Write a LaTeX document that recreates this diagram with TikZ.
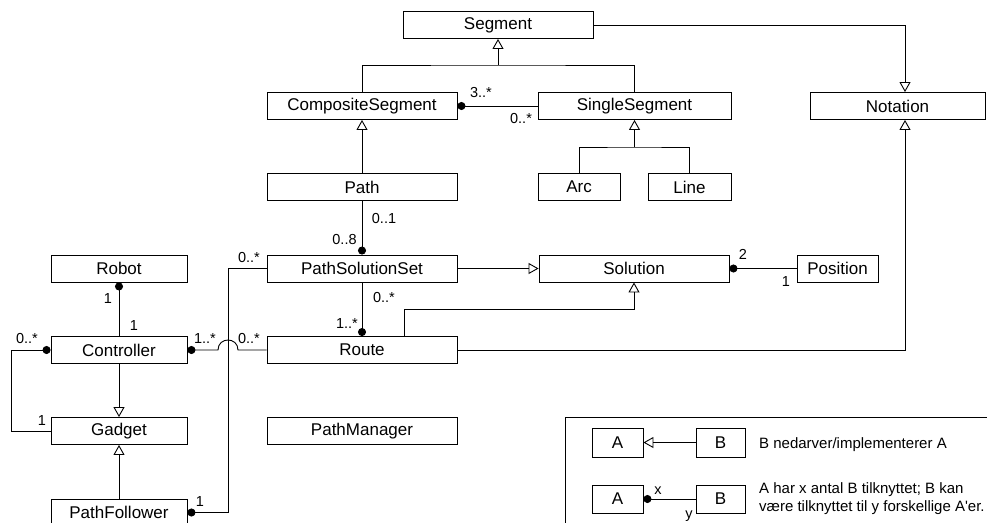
\documentclass[tikz,border=0pt]{standalone}
\usepackage{fontspec}
\setmainfont{Liberation Sans}
\usetikzlibrary{arrows.meta,calc}
\begin{document}
\begin{tikzpicture}[x=1pt,y=-1pt,
  cls/.style={draw, line width=0.9pt, minimum height=27pt, inner sep=0pt, font=\fontsize{17}{20}\selectfont},
  ln/.style={line width=0.9pt},
  gen/.style={ln, -{Triangle[open, length=10pt, width=11pt]}},
  agg/.style={ln, {Circle[length=8pt]}-},
  aggend/.style={ln, -{Circle[length=8pt]}},
  lbl/.style={font=\fontsize{14.5}{16}\selectfont, anchor=base, inner sep=0pt},
  leg/.style={font=\fontsize{15}{18}\selectfont, anchor=base west, inner sep=0pt}]
\useasboundingbox (0,0) rectangle (987,522);
\clip (0,0) rectangle (987,522);

% classes
\node[cls, minimum width=190pt] (seg) at (498,25) {Segment};
\node[cls, minimum width=190pt] (comp) at (362,106) {CompositeSegment};
\node[cls, minimum width=193pt] (single) at (634.5,106) {SingleSegment};
\node[cls, minimum width=175pt] (nota) at (897.5,106) {Notation};
\node[cls, minimum width=190pt] (path) at (362,187) {Path};
\node[cls, minimum width=82pt] (arc) at (579,187) {Arc};
\node[cls, minimum width=83pt] (line) at (689.5,187) {Line};
\node[cls, minimum width=136pt] (robot) at (119,268.5) {Robot};
\node[cls, minimum width=190pt] (pss) at (362,268.5) {PathSolutionSet};
\node[cls, minimum width=190pt] (sol) at (634,268.5) {Solution};
\node[cls, minimum width=81pt] (pos) at (837.5,268.5) {Position};
\node[cls, minimum width=136pt] (ctrl) at (119,350) {Controller};
\node[cls, minimum width=190pt] (route) at (362,350) {Route};
\node[cls, minimum width=136pt] (gadget) at (119,431) {Gadget};
\node[cls, minimum width=190pt] (pm) at (362,431) {PathManager};
\node[cls, minimum width=136pt] (pf) at (119,512.5) {PathFollower};

% helper coordinates
\coordinate (j1) at (498,65);
\coordinate (j2) at (634.5,147);
\coordinate (nx) at (905,0);
\coordinate (rx) at (404,0);
\coordinate (ry) at (0,309);
\coordinate (lx) at (11,0);
\coordinate (vx) at (228,0);

% generalizations
\draw[gen] (j1) -- (seg.south);
\draw[ln] (comp.north) |- (j1) -| (single.north);
\draw[gen] (seg.east) -| (nx |- nota.north);
\draw[gen] (path.north) -- (comp.south);
\draw[gen] (j2) -- (single.south);
\draw[ln] (arc.north) |- (j2) -| (line.north);
\draw[gen] (pss.east) -- (sol.west);
\draw[gen] (route.north -| rx) |- (ry -| sol.south) -- (sol.south);
\draw[gen] (route.east) -| (nx |- nota.south);
\draw[gen] (ctrl.south) -- (gadget.north);
\draw[gen] (pf.north) -- (gadget.south);

% associations
\draw[agg] (comp.east) -- (single.west);
\draw[aggend] (path.south) -- (pss.north);
\draw[aggend] (pss.south) -- (route.north);
\draw[agg] (sol.east) -- (pos.west);
\draw[agg] (robot.south) -- (ctrl.north);
\draw[agg] (ctrl.west) -| (lx |- gadget.west) -- (gadget.west);
\draw[agg] (ctrl.east) -- ($(vx |- ctrl.east)+(-10,0)$) .. controls +(0,-13.3) and +(0,-13.3) .. ($(vx |- ctrl.east)+(10,0)$) -- (route.west);
\draw[agg] (pf.east) -| (vx |- pss.west) -- (pss.west);

% multiplicities
\node[lbl] (m1) at (481,97) {3..*};
\node[lbl] (m2) at (521,123) {0..*};
\node[lbl] (m3) at (384,223) {0..1};
\node[lbl] (m4) at (344.5,244) {0..8};
\node[lbl] (m5) at (384,302) {0..*};
\node[lbl] (m6) at (347,328) {1..*};
\node[lbl] (m7) at (108,303) {1};
\node[lbl] (m8) at (134,330) {1};
\node[lbl] (m9) at (27,343) {0..*};
\node[lbl] (m10) at (42,425) {1};
\node[lbl] (m11) at (205,343) {1..*};
\node[lbl] (m12) at (249,343) {0..*};
\node[lbl] (m13) at (249,262) {0..*};
\node[lbl] (m14) at (200,506) {1};
\node[lbl] (m15) at (743,259) {2};
\node[lbl] (m16) at (786,286) {1};

% legend
\draw[ln] (565,417) rectangle (1000,540);
\node[cls, minimum width=51pt, minimum height=29pt] (la1) at (617.5,442.5) {A};
\node[cls, minimum width=49pt, minimum height=29pt] (lb1) at (720.5,442.5) {B};
\draw[gen] (lb1.west) -- (la1.east);
\node[leg] (lt1) at (759,448) {B nedarver/implementerer A};
\node[cls, minimum width=51pt, minimum height=28pt] (la2) at (617.5,499) {A};
\node[cls, minimum width=49pt, minimum height=28pt] (lb2) at (720.5,499) {B};
\draw[agg] (la2.east) -- (lb2.west);
\node[lbl] (lx1) at (658,494) {x};
\node[lbl] (ly1) at (689,518) {y};
\node[leg] (lt2) at (759,493) {A har x antal B tilknyttet; B kan};
\node[leg] (lt3) at (759,511) {være tilknyttet til y forskellige A\textquotesingle er.};
\end{tikzpicture}
\end{document}
